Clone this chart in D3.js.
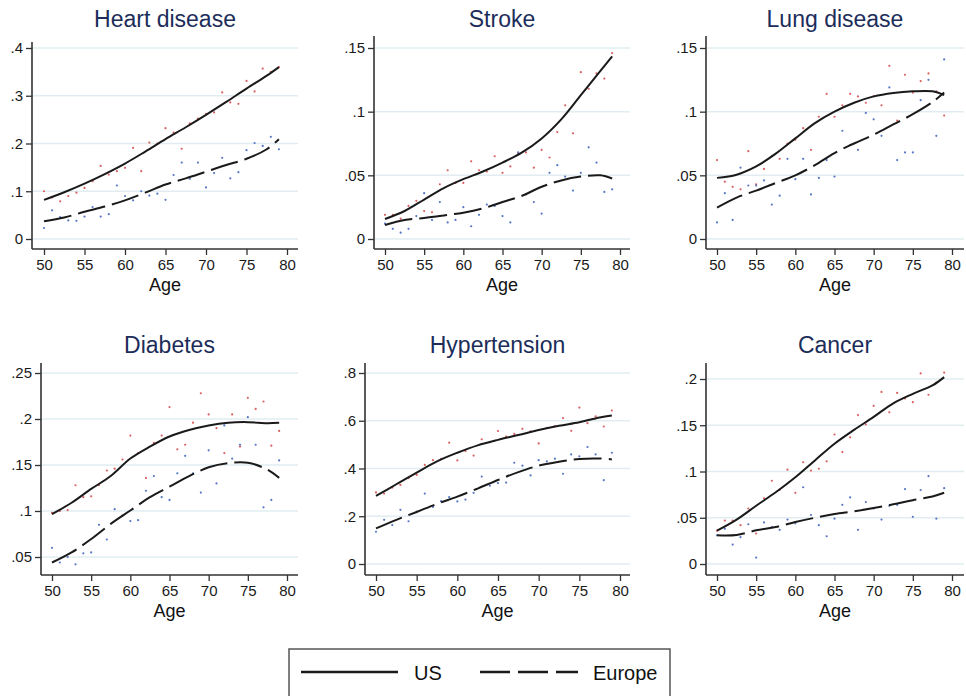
<!DOCTYPE html>
<html>
<head>
<meta charset="utf-8">
<script src="https://cdn.jsdelivr.net/npm/d3@7"></script>
<style>
  body { margin: 0; background: #fff; }
  svg { display: block; font-family: "Liberation Sans", Arial, Helvetica, sans-serif; }
  .graph-title { fill: #1c2d5a; font-size: 23px; text-anchor: middle; }
  .graph-label { fill: #111; font-size: 18px; text-anchor: middle; }
  .tick text { fill: #1a1a1a; font-size: 15px; }
  .tick line { stroke: #333; stroke-width: 1.3; }
  .grid-line { stroke: #e1edf0; stroke-width: 1.5; }
  .axis-line { stroke: #333; stroke-width: 1.6; }
</style>
</head>
<body>
<svg></svg>
<script>
// ages of the single-year averages (dots) and of the smoothed curve points
var ages = [50,51,52,53,54,55,56,57,58,59,60,61,62,63,64,65,66,67,68,69,70,71,72,73,74,75,76,77,78,79];
var lineAges = [50,52.5,55,57.5,60,62.5,65,67.5,70,72.5,75,77.5,79];
var titles = ["Heart disease","Stroke","Lung disease","Diabetes","Hypertension","Cancer"];
var seriesNames = ["US","Europe"];

var heartUS = [.100,.087,.079,.090,.097,.107,.121,.153,.135,.142,.149,.191,.142,.202,.200,.232,.223,.189,.242,.252,.262,.265,.307,.286,.283,.331,.309,.357,.350,.360];
var heartEU = [.023,.060,.046,.039,.038,.047,.067,.047,.052,.112,.090,.081,.100,.091,.095,.082,.134,.160,.126,.160,.108,.138,.170,.127,.140,.186,.201,.195,.214,.188];
var heartUSLine = [.082,.098,.116,.136,.158,.183,.209,.234,.260,.287,.315,.342,.360];
var heartEULine = [.037,.045,.057,.068,.081,.097,.114,.127,.141,.155,.168,.188,.209];
var heartTicks = [0,.1,.2,.3,.4];

var strokeUS = [.019,.019,.016,.026,.030,.022,.021,.043,.054,.044,.044,.061,.054,.053,.065,.052,.057,.067,.068,.056,.070,.064,.084,.105,.083,.131,.118,.130,.126,.146];
var strokeEU = [.012,.008,.005,.008,.018,.036,.015,.029,.013,.015,.025,.010,.019,.027,.026,.018,.013,.068,.035,.029,.020,.052,.058,.049,.038,.052,.072,.060,.037,.039];
var strokeUSLine = [.0157,.022,.031,.040,.047,.053,.060,.068,.079,.094,.113,.132,.1435];
var strokeEULine = [.011,.015,.0165,.0185,.0207,.024,.029,.034,.041,.046,.049,.050,.0475];
var strokeTicks = [0,.05,.1,.15];

var lungUS = [.062,.045,.041,.039,.069,.043,.055,.065,.063,.075,.078,.087,.070,.096,.114,.096,.105,.114,.112,.107,.112,.105,.136,.093,.129,.115,.124,.130,.116,.097];
var lungEU = [.013,.036,.015,.056,.042,.042,.046,.027,.034,.063,.047,.063,.035,.048,.062,.049,.085,.074,.070,.099,.094,.081,.119,.062,.068,.068,.109,.125,.081,.141];
var lungUSLine = [.048,.0505,.057,.067,.079,.091,.100,.107,.112,.1147,.116,.116,.113];
var lungEULine = [.0246,.0325,.038,.044,.050,.058,.0675,.075,.082,.090,.098,.1075,.115];
var lungTicks = [0,.05,.1,.15];

var diabetesUS = [.098,.100,.101,.128,.115,.116,.128,.144,.146,.156,.182,.163,.136,.174,.182,.213,.167,.172,.196,.228,.205,.190,.163,.205,.170,.223,.211,.219,.171,.187];
var diabetesEU = [.060,.044,.050,.042,.054,.055,.085,.069,.102,.095,.089,.090,.122,.138,.115,.112,.141,.160,.141,.120,.166,.130,.193,.157,.172,.202,.172,.104,.112,.155];
var diabetesUSLine = [.0966,.109,.124,.138,.157,.170,.181,.188,.193,.196,.1966,.1955,.196];
var diabetesEULine = [.044,.055,.0695,.086,.1005,.115,.1265,.138,.1475,.152,.1525,.145,.136];
var diabetesTicks = [.05,.1,.15,.2,.25];

var hyperUS = [.300,.295,.320,.331,.360,.373,.415,.435,.440,.508,.434,.473,.454,.522,.510,.557,.534,.545,.566,.556,.505,.570,.578,.611,.558,.655,.590,.618,.576,.643];
var hyperEU = [.135,.185,.163,.227,.179,.220,.295,.239,.263,.280,.262,.270,.298,.366,.328,.339,.341,.424,.412,.371,.435,.430,.441,.378,.459,.451,.490,.459,.351,.466];
var hyperUSLine = [.285,.334,.383,.430,.466,.497,.520,.540,.561,.579,.594,.614,.622];
var hyperEULine = [.149,.185,.218,.252,.282,.316,.352,.385,.412,.428,.440,.442,.438];
var hyperTicks = [0,.2,.4,.6,.8];

var cancerUS = [.036,.047,.047,.042,.060,.033,.071,.090,.080,.102,.077,.110,.101,.103,.111,.140,.121,.137,.161,.151,.171,.186,.164,.185,.179,.175,.206,.183,.196,.207];
var cancerEU = [.031,.038,.021,.029,.043,.007,.045,.040,.037,.048,.044,.083,.053,.042,.030,.049,.064,.072,.037,.067,.060,.048,.063,.064,.081,.051,.080,.095,.049,.082];
var cancerUSLine = [.036,.048,.063,.0775,.0937,.112,.130,.145,.159,.1737,.184,.193,.202];
var cancerEULine = [.031,.0313,.0364,.040,.0454,.050,.054,.057,.0605,.0645,.069,.073,.077];
var cancerTicks = [0,.05,.1,.15,.2];

var xTicks = [50,55,60,65,70,75,80];

document.addEventListener("DOMContentLoaded", function() {
  drawChart();
});

function drawChart() {

  var svgWidth = 966, svgHeight = 696;
  var svg = d3.select('svg')
    .attr("width", svgWidth)
    .attr("height", svgHeight);

  // panel frames: axis corner, right edge, pixel spots of first/last x and y ticks
  var frames = [
    { left: 32,  right: 298, top: 42, bottom: 249, x50: 44,  x80: 287, yLo: 239, yHi: 48,  titleY: 27 },
    { left: 374, right: 630, top: 36, bottom: 249, x50: 385, x80: 620, yLo: 239, yHi: 48,  titleY: 27 },
    { left: 706, right: 964, top: 36, bottom: 249, x50: 717, x80: 952, yLo: 239, yHi: 48,  titleY: 27 },
    { left: 41,  right: 298, top: 363, bottom: 575, x50: 52,  x80: 287, yLo: 557, yHi: 373, titleY: 353 },
    { left: 365, right: 630, top: 363, bottom: 575, x50: 376, x80: 620, yLo: 564, yHi: 373, titleY: 353 },
    { left: 706, right: 964, top: 363, bottom: 575, x50: 717, x80: 952, yLo: 564, yHi: 379, titleY: 353 }
  ];

  var panels = [
    { us: heartUS, eu: heartEU, usLine: heartUSLine, euLine: heartEULine, ticks: heartTicks },
    { us: strokeUS, eu: strokeEU, usLine: strokeUSLine, euLine: strokeEULine, ticks: strokeTicks },
    { us: lungUS, eu: lungEU, usLine: lungUSLine, euLine: lungEULine, ticks: lungTicks },
    { us: diabetesUS, eu: diabetesEU, usLine: diabetesUSLine, euLine: diabetesEULine, ticks: diabetesTicks },
    { us: hyperUS, eu: hyperEU, usLine: hyperUSLine, euLine: hyperEULine, ticks: hyperTicks },
    { us: cancerUS, eu: cancerEU, usLine: cancerUSLine, euLine: cancerEULine, ticks: cancerTicks }
  ];

  var fmt = function(d) {
    return d === 0 ? "0" : d3.format(".2~f")(d).replace(/^0/, "");
  };

  panels.forEach(function(p, i) {
    var f = frames[i];
    var g = svg.append("g");

    var x = d3.scaleLinear().domain([50, 80]).range([f.x50, f.x80]);
    var y = d3.scaleLinear()
      .domain([p.ticks[0], p.ticks[p.ticks.length - 1]])
      .range([f.yLo, f.yHi]);

    //grid lines
    g.selectAll(".grid-line")
      .data(p.ticks)
      .enter()
      .append("line")
      .attr("class", "grid-line")
      .attr("x1", f.left)
      .attr("x2", f.right)
      .attr("y1", (d) => y(d))
      .attr("y2", (d) => y(d));

    //dots
    g.selectAll(".dot-us")
      .data(ages)
      .enter()
      .append("circle")
      .attr("class", "dot-us")
      .attr("cx", (d) => x(d))
      .attr("cy", (d, j) => y(p.us[j]))
      .attr("r", 1.1)
      .attr("fill", "#d9605f");

    g.selectAll(".dot-eu")
      .data(ages)
      .enter()
      .append("circle")
      .attr("class", "dot-eu")
      .attr("cx", (d) => x(d))
      .attr("cy", (d, j) => y(p.eu[j]))
      .attr("r", 1.1)
      .attr("fill", "#5577c4");

    //smoothed curves
    var line = d3.line()
      .x((d) => x(d))
      .curve(d3.curveCatmullRom.alpha(0.5));

    g.append("path")
      .attr("d", line.y((d, j) => y(p.usLine[j]))(lineAges))
      .attr("fill", "none")
      .attr("stroke", "#1a1a1a")
      .attr("stroke-width", 2);

    g.append("path")
      .attr("d", line.y((d, j) => y(p.euLine[j]))(lineAges))
      .attr("fill", "none")
      .attr("stroke", "#1a1a1a")
      .attr("stroke-width", 2)
      .attr("stroke-dasharray", "28,7");

    //axes
    var yAxis = g.append("g")
      .attr("transform", "translate(" + f.left + ",0)")
      .call(d3.axisLeft(y).tickValues(p.ticks).tickFormat(fmt).tickSize(6).tickPadding(3));
    yAxis.select(".domain").remove();

    var xAxis = g.append("g")
      .attr("transform", "translate(0," + f.bottom + ")")
      .call(d3.axisBottom(x).tickValues(xTicks).tickSize(6).tickPadding(4));
    xAxis.select(".domain").remove();

    g.append("line")
      .attr("class", "axis-line")
      .attr("x1", f.left).attr("x2", f.left)
      .attr("y1", f.top).attr("y2", f.bottom);

    g.append("line")
      .attr("class", "axis-line")
      .attr("x1", f.left).attr("x2", f.right)
      .attr("y1", f.bottom).attr("y2", f.bottom);

    //labels
    g.append("text")
      .attr("class", "graph-title")
      .attr("x", (f.left + f.right) / 2)
      .attr("y", f.titleY)
      .text(titles[i]);

    g.append("text")
      .attr("class", "graph-label")
      .attr("x", (f.left + f.right) / 2)
      .attr("y", f.bottom + 42)
      .text("Age");
  });

  //legend
  var legend = svg.append("g");
  legend.append("rect")
    .attr("x", 289).attr("y", 649)
    .attr("width", 381).attr("height", 60)
    .attr("fill", "none")
    .attr("stroke", "#555")
    .attr("stroke-width", 1.5);

  legend.append("line")
    .attr("x1", 301).attr("x2", 398)
    .attr("y1", 672).attr("y2", 672)
    .attr("stroke", "#1a1a1a").attr("stroke-width", 2.5);

  legend.append("line")
    .attr("x1", 480).attr("x2", 578)
    .attr("y1", 672).attr("y2", 672)
    .attr("stroke", "#1a1a1a").attr("stroke-width", 2.5)
    .attr("stroke-dasharray", "30,8");

  legend.append("text")
    .attr("x", 414).attr("y", 680)
    .attr("font-size", 20).attr("fill", "#111")
    .text(seriesNames[0]);

  legend.append("text")
    .attr("x", 593).attr("y", 680)
    .attr("font-size", 20).attr("fill", "#111")
    .text(seriesNames[1]);
}
</script>
</body>
</html>
